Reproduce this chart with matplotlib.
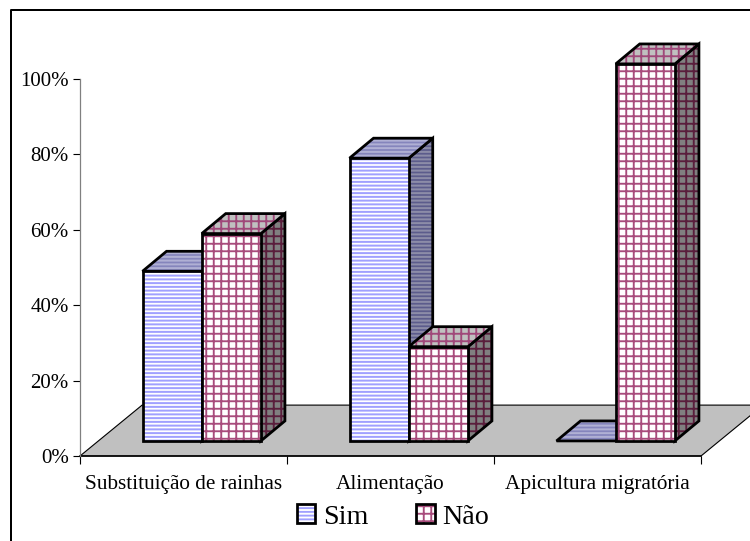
import matplotlib
matplotlib.use('Agg')
import matplotlib.pyplot as plt
from matplotlib.legend_handler import HandlerTuple
from matplotlib.lines import Line2D
from matplotlib.patches import Patch, Polygon

plt.rcParams['font.family'] = ['Liberation Serif']

categories = ['Substituição de rainhas', 'Alimentação', 'Apicultura migratória']
sim = [45, 75, 0]
nao = [55, 25, 100]
yticks = [0, 20, 40, 60, 80, 100]

W, H, DPI = 750, 541, 90

# 3d look: shift in data units
FLOOR_DX, FLOOR_DY = 0.30, 13.5
BASE_DX, BASE_DY = 0.087, 4.0
BAR_DX, BAR_DY = 0.116, 5.3
GAP, BAR_W = 0.215, 0.286

SIM_STYLE = dict(line='#a0a0ff', side_line='#8c8ca8', top_line='#b0b0d4', front='white',
                 side='#5c5c8c', top='#8585bc', hatch='----', lw=1.6)
NAO_STYLE = dict(line='#a84c7c', side_line='#5a1e3c', top_line='#a0487a', front='white',
                 side='#808080', top='#c0c0c0', hatch='++', lw=1.5)


def face(ax, pts, fc, line, st, z):
    plt.rcParams['hatch.linewidth'] = st['lw']
    ax.add_patch(Polygon(pts, closed=True, facecolor=fc, edgecolor=line, hatch=st['hatch'],
                         linewidth=0, clip_on=False, zorder=z))
    ax.add_patch(Polygon(pts, closed=True, facecolor='none', edgecolor='black',
                         linewidth=2.2, joinstyle='miter', clip_on=False, zorder=z + 0.1))


def bar3d(ax, x0, val, st, z):
    x1 = x0 + BAR_W
    b = BASE_DY
    t = BASE_DY + val
    face(ax, [(x1, b), (x1 + BAR_DX, b + BAR_DY), (x1 + BAR_DX, t + BAR_DY), (x1, t)],
         st['side'], st['side_line'], st, z)
    face(ax, [(x0, t), (x1, t), (x1 + BAR_DX, t + BAR_DY), (x0 + BAR_DX, t + BAR_DY)],
         st['top'], st['top_line'], st, z + 0.2)
    if val > 0:
        face(ax, [(x0, b), (x1, b), (x1, t), (x0, t)], st['front'], st['line'], st, z + 0.4)


fig = plt.figure(figsize=(W / DPI, H / DPI), dpi=DPI)
ax = fig.add_axes([80 / W, (H - 456) / H, (701 - 80) / W, (456 - 79) / H])
ax.set_xlim(0, 3)
ax.set_ylim(0, 100)
ax.patch.set_visible(False)

# floor
n = len(categories)
ax.add_patch(Polygon([(0, 0), (n, 0), (n + FLOOR_DX, FLOOR_DY), (FLOOR_DX, FLOOR_DY)], closed=True,
                     facecolor='#c0c0c0', edgecolor='black', linewidth=0.9, clip_on=False, zorder=1))

for i in range(n):
    x0 = i + GAP + BASE_DX
    bar3d(ax, x0, sim[i], SIM_STYLE, 2 + i * 2)
    bar3d(ax, x0 + BAR_W, nao[i], NAO_STYLE, 3 + i * 2)

for s in ['top', 'right']:
    ax.spines[s].set_visible(False)
ax.spines['left'].set_color('#808080')
ax.spines['left'].set_linewidth(1.0)
ax.spines['bottom'].set_linewidth(1.2)
ax.spines['bottom'].set_zorder(1.5)

ax.set_yticks(yticks)
ax.set_yticklabels([str(v) + '%' for v in yticks], fontsize=16.7)
ax.tick_params(axis='y', length=6, width=0.9, pad=3)
ax.set_xticks(range(n + 1))
ax.set_xticklabels([])
ax.tick_params(axis='x', length=6, width=0.9)
ax.set_xticks([i + 0.5 for i in range(n)], minor=True)
ax.set_xticklabels(categories, minor=True, fontsize=17)
ax.tick_params(axis='x', which='minor', length=0, pad=15.5)

# chart frame
fig.add_artist(Line2D([11 / W, 11 / W, 1], [0, (H - 10) / H, (H - 10) / H], color='black', linewidth=1.6))

plt.rcParams['hatch.linewidth'] = 1.6
sim_h = (Patch(facecolor='white', edgecolor=SIM_STYLE['line'], hatch=SIM_STYLE['hatch'], linewidth=0),
         Patch(facecolor='none', edgecolor='black', linewidth=2.2))
plt.rcParams['hatch.linewidth'] = 1.5
nao_h = (Patch(facecolor='white', edgecolor=NAO_STYLE['line'], hatch=NAO_STYLE['hatch'], linewidth=0),
         Patch(facecolor='none', edgecolor='black', linewidth=2.2))
fig.legend([sim_h, nao_h], ['Sim', 'Não'], handler_map={tuple: HandlerTuple(ndivide=1, pad=0)},
           loc='center', bbox_to_anchor=(393 / W, (H - 517) / H), ncol=2,
           frameon=False, fontsize=22.5, handlelength=0.66, handleheight=0.66,
           handletextpad=0.28, columnspacing=1.7, borderpad=0)

fig.savefig('out.png', dpi=DPI)
